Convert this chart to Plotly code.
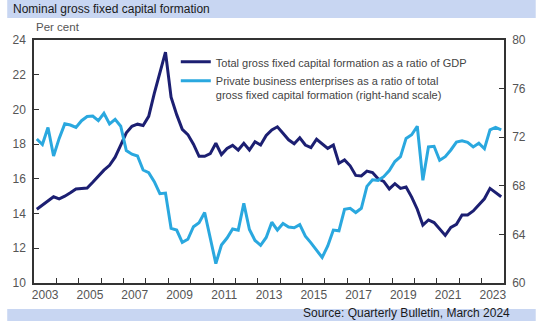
import plotly.graph_objects as go

# ---------------- data ----------------
quarters = [f"{y}Q{q}" for y in range(2003, 2024) for q in range(1, 5)]

# Total gross fixed capital formation as a ratio of GDP (per cent, left axis)
gfcf_gdp = [
    14.25, 14.5, 14.7, 14.97, 14.85, 15.0, 15.2, 15.42, 15.45, 15.47, 15.8, 16.15,
    16.5, 16.78, 17.25, 17.95, 18.65, 19.03, 19.15, 19.07, 19.6, 20.93, 22.2, 23.3,
    20.7, 19.7, 18.85, 18.55, 18.0, 17.3, 17.3, 17.45, 18.05, 17.4, 17.75, 17.93,
    17.66, 18.05, 17.66, 18.14, 17.95, 18.5, 18.82, 19.0, 18.63, 18.25, 18.02, 18.37,
    17.95, 17.8, 18.28, 18.0, 17.76, 17.95, 16.9, 17.09, 16.75, 16.2, 16.17, 16.45,
    16.36, 16.0, 15.85, 15.42, 15.72, 15.45, 15.53, 14.95, 14.25, 13.34, 13.63, 13.48,
    13.1, 12.74, 13.2, 13.38, 13.92, 13.92, 14.15, 14.5, 14.85, 15.45, 15.2, 14.97,
]

# Private business enterprises as a ratio of total GFCF (per cent, right axis)
private_share = [
    71.85, 71.4, 72.8, 70.45, 71.9, 73.1, 73.0, 72.8, 73.36, 73.7, 73.74, 73.36,
    73.97, 73.1, 73.47, 72.9, 70.9, 70.6, 70.45, 69.3, 69.08, 68.34, 67.35, 67.4,
    64.5, 64.36, 63.35, 63.6, 64.63, 64.96, 65.8, 63.8, 61.6, 63.13, 63.7, 64.45,
    64.35, 66.55, 64.4, 63.5, 63.1, 63.75, 65.0, 64.36, 64.9, 64.6, 64.55, 64.8,
    63.85, 63.3, 62.7, 62.1, 63.05, 64.36, 64.3, 66.07, 66.15, 65.8, 66.15, 67.95,
    68.5, 68.45, 68.75, 69.25, 70.0, 70.4, 71.9, 72.2, 72.9, 68.45, 71.2, 71.25,
    70.1, 70.4, 70.95, 71.6, 71.7, 71.58, 71.2, 71.5, 71.05, 72.6, 72.8, 72.6,
]

x_tick_years = list(range(2004, 2024))
x_label_years = list(range(2003, 2024, 2))
left_ticks = [10, 12, 14, 16, 18, 20, 22, 24]
right_ticks = [60, 64, 68, 72, 76, 80]

# ---------------- figure ----------------
x = [int(s[:4]) + (int(s[-1]) - 0.5) / 4 for s in quarters]

DARK = "#1c1f72"
LIGHT = "#2aa8df"
FRAME = "#333333"
TICKFONT = dict(family="Arial, Liberation Sans, sans-serif", size=12, color="#555555")

fig = go.Figure()
fig.add_trace(go.Scatter(
    x=x, y=gfcf_gdp, mode="lines", name="Total gross fixed capital formation as a ratio of GDP",
    line=dict(color=DARK, width=3), yaxis="y"))
fig.add_trace(go.Scatter(
    x=x, y=private_share, mode="lines",
    name="Private business enterprises as a ratio of total<br>gross fixed capital formation (right-hand scale)",
    line=dict(color=LIGHT, width=3), yaxis="y2"))

W, H = 538, 321
ML, MR, MT, MB = 32, 32, 40, 38
PW, PH = W - ML - MR, H - MT - MB


def px(xp):
    return (xp - ML) / PW


def py(yp):
    return (H - MB - yp) / PH


fig.update_layout(
    width=W, height=H, autosize=False,
    margin=dict(l=ML, r=MR, t=MT, b=MB, pad=0),
    paper_bgcolor="white", plot_bgcolor="white",
    font=dict(family="Arial, Liberation Sans, sans-serif", size=12, color="#222222"),
    showlegend=True,
    legend=dict(x=px(175), y=py(48), xanchor="left", yanchor="top",
                bgcolor="rgba(255,255,255,0)", borderwidth=0,
                font=dict(size=11, color="#444444"), valign="top",
                tracegroupgap=0, itemwidth=30),
    xaxis=dict(range=[2003, 2024], tickmode="array",
               tickvals=[y + 0.5 for y in x_label_years],
               ticktext=[str(y) for y in x_label_years],
               ticks="", showgrid=False, zeroline=False,
               showline=True, linecolor=FRAME, linewidth=1.5, mirror=True,
               tickfont=TICKFONT,
               minor=dict(tickmode="array", tickvals=x_tick_years, ticks="inside",
                          ticklen=5, tickwidth=1, tickcolor=FRAME, showgrid=False)),
    yaxis=dict(range=[10, 24], tickmode="array", tickvals=left_ticks,
               ticks="inside", ticklen=5, tickwidth=1, tickcolor=FRAME,
               showgrid=False, zeroline=False,
               showline=True, linecolor=FRAME, linewidth=1.5, mirror=True,
               tickfont=TICKFONT, ticklabelstandoff=4),
    yaxis2=dict(range=[60, 80], tickmode="array", tickvals=right_ticks,
                overlaying="y", side="right",
                ticks="inside", ticklen=5, tickwidth=1, tickcolor=FRAME,
                showgrid=False, zeroline=False,
                showline=True, linecolor=FRAME, linewidth=1.5,
                tickfont=TICKFONT, ticklabelstandoff=4),
    shapes=[
        dict(type="rect", xref="paper", yref="paper", layer="below",
             x0=px(5), x1=px(W), y0=py(18), y1=py(0),
             fillcolor="#c8d6f2", line=dict(width=0)),
        dict(type="rect", xref="paper", yref="paper", layer="below",
             x0=px(5), x1=px(W), y0=py(H), y1=py(309),
             fillcolor="#c8d6f2", line=dict(width=0)),
    ],
    annotations=[
        dict(text="Nominal gross fixed capital formation", xref="paper", yref="paper",
             x=px(9), y=py(9), xanchor="left", yanchor="middle", showarrow=False,
             font=dict(size=12, color="#1a1a1a")),
        dict(text="Per cent", xref="paper", yref="paper",
             x=px(32), y=py(27), xanchor="left", yanchor="middle", showarrow=False,
             font=dict(size=11.5, color="#555555")),
        dict(text="Source: Quarterly Bulletin, March 2024", xref="paper", yref="paper",
             x=px(514), y=py(313), xanchor="right", yanchor="middle", showarrow=False,
             font=dict(size=12, color="#1a1a1a")),
    ],
)

fig.write_html("out.html")
